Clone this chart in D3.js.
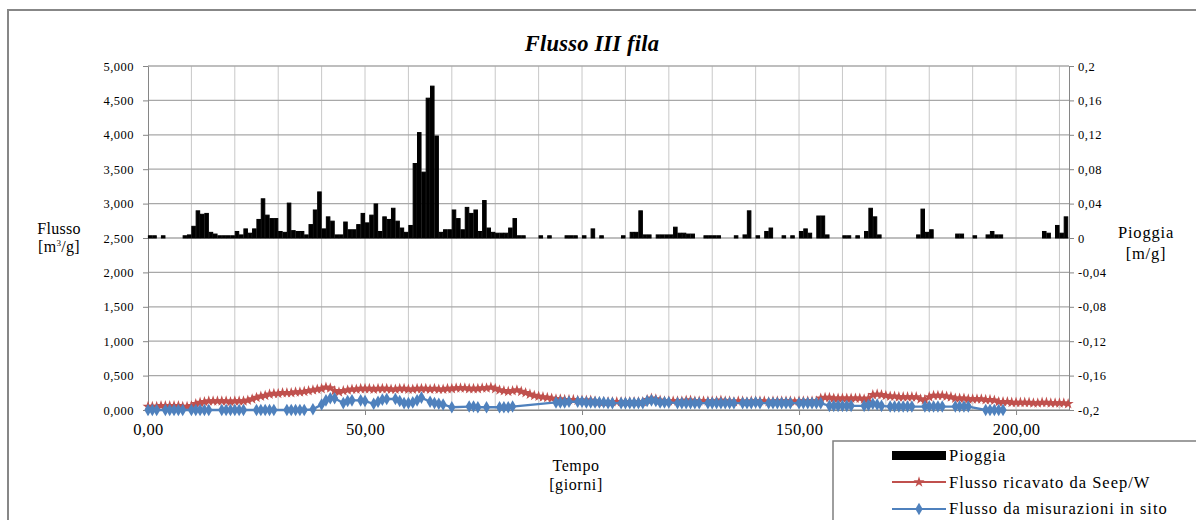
<!DOCTYPE html>
<html>
<head>
<meta charset="utf-8">
<script src="https://cdn.jsdelivr.net/npm/d3@7"></script>
<style>
  body { margin: 0; background: #fff; }
</style>
</head>
<body>
<div id="chart"></div>
<script>
// rain (secondary axis, m/g) - only the days where a bar is visible
const rainDays = [0,1,3,8,9,10,11,12,13,14,15,16,17,18,19,20,21,22,23,24,25,26,27,28,29,30,31,32,33,34,35,36,37,38,39,40,41,42,43,44,45,46,47,48,49,50,51,52,53,54,55,56,57,58,59,60,61,62,63,64,65,66,67,68,69,70,71,72,73,74,75,76,77,78,79,80,81,82,83,84,85,86,
  90,92,96,97,98,100,102,104,109,111,112,113,114,115,117,118,119,120,121,122,123,124,125,128,129,130,131,135,137,138,140,142,143,146,148,150,151,152,154,155,156,160,161,163,165,166,167,168,177,178,179,180,186,187,190,193,194,195,196,206,207,209,210,211];
const rainValues = [0.002,0.002,0.002,0.002,0.003,0.013,0.031,0.027,0.028,0.006,0.004,0.002,0.002,0.002,0.002,0.007,0.003,0.010,0.005,0.010,0.021,0.045,0.026,0.022,0.022,0.007,0.006,0.040,0.008,0.007,0.007,0.003,0.015,0.032,0.053,0.010,0.024,0.019,0.003,0.003,0.018,0.009,0.009,0.015,0.028,0.017,0.026,0.039,0.007,0.024,0.021,0.034,0.019,0.011,0.006,0.014,0.086,0.122,0.076,0.162,0.176,0.118,0.006,0.009,0.009,0.032,0.022,0.009,0.035,0.028,0.032,0.007,0.043,0.011,0.006,0.005,0.005,0.005,0.011,0.022,0.002,0.002,
  0.002,0.002,0.002,0.002,0.002,0.002,0.010,0.002,0.002,0.006,0.006,0.031,0.003,0.003,0.003,0.003,0.003,0.003,0.012,0.005,0.005,0.004,0.004,0.002,0.002,0.002,0.002,0.002,0.003,0.031,0.002,0.007,0.011,0.002,0.002,0.007,0.010,0.005,0.025,0.025,0.003,0.002,0.002,0.002,0.007,0.034,0.024,0.003,0.003,0.033,0.006,0.009,0.004,0.004,0.002,0.003,0.007,0.003,0.003,0.007,0.005,0.014,0.005,0.024];

// Flusso ricavato da Seep/W, one value per day starting at day 0 (m3/g)
const seepFlow = [
  0.05,0.05,0.05,0.06,0.06,0.06,0.06,0.06,0.05,0.05,
  0.06,0.09,0.11,0.12,
  0.13,0.13,0.13,0.13,0.13,0.12,0.13,0.13,0.13,0.14,
  0.16,0.18,0.20,0.21,0.23,
  0.24,0.24,0.25,0.25,0.25,0.26,0.26,0.27,
  0.28,0.29,0.30,0.31,0.33,0.32,0.28,0.26,0.28,0.29,0.30,0.30,0.31,
  0.31,0.31,0.30,0.31,0.31,0.31,0.30,0.30,0.31,0.31,0.30,0.30,0.31,0.31,0.31,0.30,0.31,0.30,0.30,0.31,0.31,0.32,0.32,0.32,0.31,0.31,0.31,0.32,0.32,
  0.33,0.31,0.29,0.28,0.27,0.28,0.29,0.27,0.25,0.23,0.21,0.20,0.19,0.18,0.17,0.16,0.16,0.15,0.15,0.15,0.14,0.14,0.14,0.14,0.13,
  0.12,0.12,0.12,0.12,0.12,0.12,0.12,0.12,0.12,0.12,0.12,
  0.15,0.17,0.16,0.14,
  0.13,0.13,0.13,0.13,0.13,0.14,0.14,0.13,0.13,0.13,0.13,0.13,0.13,0.14,0.13,0.13,0.12,0.13,0.13,0.12,0.13,0.13,0.13,0.13,0.12,0.13,0.13,0.13,0.13,0.13,0.12,0.13,0.13,0.13,0.13,0.13,
  0.17,0.18,0.18,0.17,0.17,0.17,0.17,0.17,0.17,0.17,0.16,0.17,
  0.22,0.23,0.22,0.21,0.20,0.20,0.19,0.19,0.19,0.19,0.19,0.16,0.15,
  0.19,0.21,0.21,0.21,0.20,0.19,0.17,0.17,0.17,0.16,0.16,0.16,0.16,0.15,0.15,0.14,
  0.12,0.12,0.12,0.11,0.11,0.11,0.11,0.11,0.10,0.10,0.11,0.11,0.10,0.10,0.10,0.10,0.09
];

// Flusso da misurazioni in sito (measurement days and values, m3/g)
const measDays = [0,1,2,4,5,6,7,8,10,11,12,13,14,17,18,19,20,21,22,25,26,27,28,29,32,33,34,35,36,
  38,40,41,42,43,45,46,47,49,50,52,53,54,55,57,58,59,60,61,62,63,65,66,67,68,70,74,75,76,78,81,82,83,84,
  94,95,96,97,99,100,101,102,103,104,105,106,107,109,110,111,112,113,114,115,116,117,118,119,120,
  122,123,124,125,126,127,129,130,131,132,133,134,135,137,138,139,140,141,143,144,145,146,147,148,
  150,151,152,153,154,155,157,158,159,160,161,162,165,166,167,168,169,171,172,173,174,175,176,
  179,180,181,182,183,186,187,188,189,193,194,195,196,197];
const measFlow = [0,0,0,0,0,0,0,0,0,0,0,0,0,0,0,0,0,0,0,0,0,0,0,0,0,0,0,0,0,
  0.01,0.08,0.14,0.17,0.17,0.10,0.13,0.14,0.14,0.13,0.09,0.12,0.15,0.16,0.16,0.13,0.10,0.10,0.11,0.14,0.18,0.12,0.10,0.09,0.08,0.04,0.05,0.05,0.04,0.04,0.04,0.04,0.04,0.05,
  0.11,0.11,0.11,0.12,0.12,0.12,0.11,0.11,0.11,0.11,0.11,0.10,0.10,0.10,0.10,0.10,0.10,0.10,0.10,0.13,0.14,0.13,0.11,0.11,0.11,
  0.10,0.10,0.10,0.10,0.10,0.10,0.10,0.10,0.10,0.10,0.10,0.10,0.10,0.10,0.10,0.10,0.11,0.10,0.10,0.10,0.10,0.10,0.10,0.10,
  0.10,0.10,0.10,0.10,0.10,0.10,0.06,0.06,0.06,0.06,0.06,0.06,0.06,0.07,0.09,0.08,0.06,0.05,0.05,0.05,0.05,0.05,0.05,
  0.05,0.05,0.05,0.05,0.05,0.05,0.05,0.05,0.05,0,0,0,0,0];

const leftTicks = [0,0.5,1,1.5,2,2.5,3,3.5,4,4.5,5];
const rightTicks = [-0.2,-0.16,-0.12,-0.08,-0.04,0,0.04,0.08,0.12,0.16,0.2];
const xTicks = [0,50,100,150,200];
const xGrid = [10,20,30,40,50,60,70,80,90,100,110,120,130,140,150,160,170,180,190,200,210];

const W = 1196, H = 520;
const red = "#c0504d", blue = "#4f81bd";
const serif = "'Liberation Serif'";
const it = d3.formatLocale({decimal: ",", thousands: ".", grouping: [3], currency: ["", "€"], minus: "-"});

const svg = d3.select("#chart").append("svg").attr("width", W).attr("height", H)
  .style("display", "block");

// font helper: serif text, size and letter spacing
const font = (sel, size, ls = 0) => sel.style("font-family", serif)
  .style("font-size", size + "px").style("letter-spacing", ls + "px").attr("fill", "#000");

// chart frame
svg.append("rect").attr("x", 8).attr("y", 10).attr("width", 1300).attr("height", 700)
  .attr("fill", "#fff").attr("stroke", "#878787").attr("stroke-width", 2);

const x = d3.scaleLinear().domain([0, 212.2]).range([148, 1069]);
const yL = d3.scaleLinear().domain([0, 5]).range([410, 66]);
const yR = d3.scaleLinear().domain([-0.2, 0.2]).range([410, 66]);

// grid
svg.append("g").selectAll("line").data(xGrid).join("line")
  .attr("x1", d => x(d)).attr("x2", d => x(d)).attr("y1", 66).attr("y2", 410)
  .attr("stroke", "#c8c8c8").attr("stroke-width", 1);
svg.append("g").selectAll("line").data(leftTicks).join("line")
  .attr("x1", 148).attr("x2", 1069).attr("y1", d => yL(d)).attr("y2", d => yL(d))
  .attr("stroke", "#a8a8a8").attr("stroke-width", 1.3);

// axes
const styleAxis = (g, size, ls) => {
  g.attr("font-family", null).attr("font-size", null);
  g.selectAll(".domain").attr("stroke", "#868686");
  g.selectAll(".tick line").attr("stroke", "#868686");
  font(g.selectAll("text"), size, ls);
};

svg.append("g").attr("transform", "translate(148,0)")
  .call(d3.axisLeft(yL).tickValues(leftTicks).tickSize(5).tickSizeOuter(0).tickPadding(9).tickFormat(it.format(".3f")))
  .call(g => styleAxis(g, 12.5, 0.5));

svg.append("g").attr("transform", "translate(1069,0)")
  .call(d3.axisRight(yR).tickValues(rightTicks).tickSize(5).tickSizeOuter(0).tickPadding(4).tickFormat(it.format("~g")))
  .call(g => styleAxis(g, 12.5, 0.5));

svg.append("g").attr("transform", "translate(0,410)")
  .call(d3.axisBottom(x).tickValues(xTicks).tickSize(5).tickSizeOuter(0).tickPadding(8).tickFormat(it.format(".2f")))
  .call(g => styleAxis(g, 16.5, 0.4));

// rain bars
const rain = rainDays.map((d, i) => ({day: d, v: rainValues[i]}));
svg.append("g").selectAll("rect").data(rain).join("rect")
  .attr("x", d => x(d.day) + 0.4)
  .attr("width", x(1) - x(0) - 0.8)
  .attr("y", d => yR(d.v) - 0.5)
  .attr("height", d => yR(0) - yR(d.v) + 0.5)
  .attr("fill", "#000").attr("stroke", "#000").attr("stroke-width", 1);

// flow lines
function drawSeries(data, color, symbol, size) {
  const line = d3.line().x(d => x(d.day)).y(d => yL(d.v));
  svg.append("path").datum(data).attr("d", line)
    .attr("fill", "none").attr("stroke", color).attr("stroke-width", 2.3);
  svg.append("g").selectAll("path").data(data).join("path")
    .attr("transform", d => `translate(${x(d.day)},${yL(d.v)})`)
    .attr("d", d3.symbol().type(symbol).size(size))
    .attr("fill", color);
}
drawSeries(seepFlow.map((v, i) => ({day: i, v})), red, d3.symbolStar, 38);
drawSeries(measDays.map((d, i) => ({day: d, v: measFlow[i]})), blue, d3.symbolDiamond, 46);

// titles
font(svg.append("text").attr("x", 592).attr("y", 51).attr("text-anchor", "middle"), 22.5, 0.2)
  .style("font-weight", "bold").style("font-style", "italic")
  .text("Flusso III fila");

const twoLines = (cx, y1, y2, a, b, size, ls) => {
  const t = font(svg.append("text").attr("text-anchor", "middle"), size, ls);
  t.append("tspan").attr("x", cx).attr("y", y1).text(a);
  t.append("tspan").attr("x", cx).attr("y", y2).text(b);
  return t;
};
const lt = font(svg.append("text").attr("text-anchor", "middle"), 16, 0.3);
lt.append("tspan").attr("x", 59).attr("y", 234).text("Flusso");
const lt2 = lt.append("tspan").attr("x", 59).attr("y", 252);
lt2.append("tspan").text("[m");
lt2.append("tspan").attr("dy", -6).style("font-size", "9px").text("3");
lt2.append("tspan").attr("dy", 6).text("/g]");

twoLines(1146, 238, 259, "Pioggia", "[m/g]", 16.5, 0.8);
twoLines(576, 471, 490, "Tempo", "[giorni]", 16, 0.6);

// legend
const lg = svg.append("g");
lg.append("rect").attr("x", 833).attr("y", 441).attr("width", 500).attr("height", 200)
  .attr("fill", "#fff").attr("stroke", "#7f7f7f").attr("stroke-width", 1.5);
lg.append("rect").attr("x", 892).attr("y", 451).attr("width", 54).attr("height", 9).attr("fill", "#000");
[[red, d3.symbolStar, 38, 482], [blue, d3.symbolDiamond, 46, 509]].forEach(([c, s, sz, yy]) => {
  lg.append("line").attr("x1", 892).attr("x2", 946).attr("y1", yy).attr("y2", yy)
    .attr("stroke", c).attr("stroke-width", 2);
  lg.append("path").attr("transform", `translate(919,${yy})`)
    .attr("d", d3.symbol().type(s).size(sz)).attr("fill", c);
});
const legendLabels = ["Pioggia", "Flusso ricavato da Seep/W", "Flusso da misurazioni in sito"];
font(lg.selectAll("text.lab").data(legendLabels).join("text").attr("class", "lab")
  .attr("x", 949).attr("y", (d, i) => 461 + i * 26.5), 16.5, 1.0)
  .text(d => d);
</script>
</body>
</html>
